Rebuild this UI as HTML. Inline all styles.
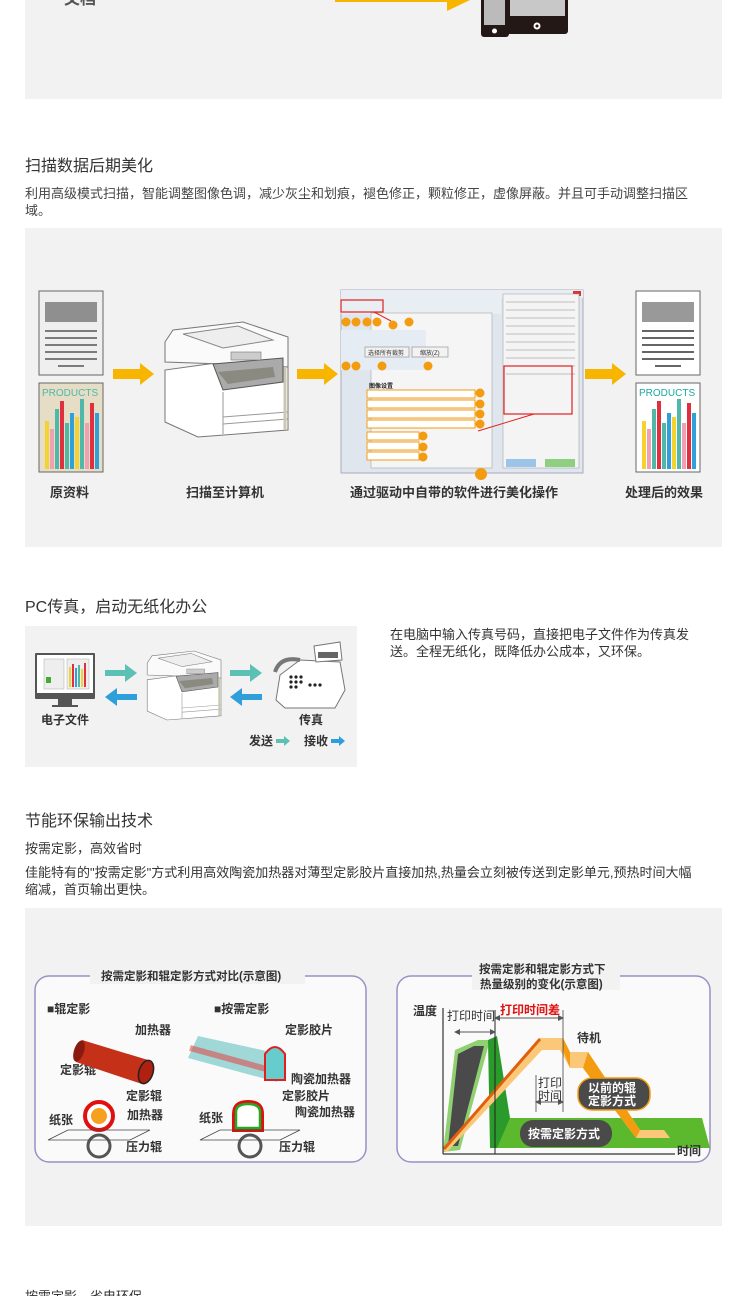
<!DOCTYPE html>
<html><head><meta charset="utf-8"><style>
html,body{margin:0;padding:0;background:#fff;}
svg{display:block;font-family:"Liberation Sans","Noto Sans CJK SC",sans-serif;}
</style></head><body>
<svg width="750" height="1296" viewBox="0 0 750 1296" xmlns="http://www.w3.org/2000/svg">
<defs>
<g id="printer">
  <path d="M2,48 L2,100 L35,115 L125,108 L125,45 L60,40 Z" fill="#fff" stroke="#777" stroke-width="1"/>
  <path d="M2,20 L10,8 L80,0 L125,15 L125,45 L60,42 L2,40 Z" fill="#fafafa" stroke="#777"/>
  <path d="M20,12 L75,4 L110,18 L60,26 Z" fill="#eee" stroke="#888"/>
  <path d="M50,42 L120,36 L120,60 L60,68 Z" fill="#aaa" stroke="#555"/>
  <path d="M55,50 L110,45 L112,55 L65,62 Z" fill="#8a8a80"/>
  <rect x="68" y="30" width="30" height="8" fill="#ccc" stroke="#777" stroke-width="0.6"/>
  <line x1="60" y1="70" x2="60" y2="112" stroke="#999"/>
  <line x1="60" y1="95" x2="125" y2="90" stroke="#999"/>
  <line x1="60" y1="102" x2="125" y2="97" stroke="#999"/>
  <line x1="122" y1="45" x2="122" y2="108" stroke="#c9c9b0" stroke-width="3"/>
</g>
<g id="bars">
  <rect x="6" y="38" width="4" height="48" fill="#f4d330"/>
  <rect x="11" y="46" width="4" height="40" fill="#f0a0b0"/>
  <rect x="16" y="26" width="4" height="60" fill="#4fb8a8"/>
  <rect x="21" y="18" width="4" height="68" fill="#e03040"/>
  <rect x="26" y="40" width="4" height="46" fill="#4fb8a8"/>
  <rect x="31" y="30" width="4" height="56" fill="#30a0d8"/>
  <rect x="36" y="34" width="4" height="52" fill="#f4d330"/>
  <rect x="41" y="16" width="4" height="70" fill="#4fb8a8"/>
  <rect x="46" y="40" width="4" height="46" fill="#f0a0b0"/>
  <rect x="51" y="20" width="4" height="66" fill="#e03040"/>
  <rect x="56" y="30" width="4" height="56" fill="#30a0d8"/>
</g>
<marker id="ah" markerWidth="6" markerHeight="6" refX="3" refY="3" orient="auto-start-reverse"><path d="M0,0 L6,3 L0,6Z" fill="#555"/></marker>
</defs>

<rect x="25" y="0" width="697" height="99" fill="#f2f2f2"/>
<text x="64" y="4" font-size="16" font-weight="bold" fill="#555">文档</text>
<rect x="335" y="-6" width="112" height="8" fill="#f7b500"/>
<path d="M447,-14 L470,0 L447,11 Z" fill="#f7b500"/>
<rect x="481" y="-10" width="28" height="47" rx="3" fill="#231815"/>
<rect x="484" y="-8" width="21" height="33" fill="#bbb"/>
<circle cx="494.5" cy="31" r="2.5" fill="#fff"/>
<rect x="507" y="-10" width="61" height="44" rx="3" fill="#231815"/>
<rect x="510" y="-8" width="55" height="24" fill="#c8c8c8"/>
<circle cx="537" cy="26" r="3.5" fill="#fff"/><circle cx="537" cy="26" r="1.5" fill="#231815"/>

<text x="25" y="171" font-size="16" fill="#333">扫描数据后期美化</text>
<text x="25" y="198" font-size="13" fill="#444">利用高级模式扫描，智能调整图像色调，减少灰尘和划痕，褪色修正，颗粒修正，虚像屏蔽。并且可手动调整扫描区</text>
<text x="25" y="215" font-size="13" fill="#444">域。</text>
<rect x="25" y="228" width="697" height="319" fill="#f2f2f2"/>

<rect x="39" y="291" width="64" height="84" fill="#efefef" stroke="#666"/>
<rect x="45" y="302" width="52" height="20" fill="#8f8f8f"/>
<g stroke="#555" stroke-width="1.5"><line x1="45" y1="331" x2="97" y2="331"/><line x1="45" y1="338" x2="97" y2="338"/><line x1="45" y1="345" x2="97" y2="345"/><line x1="45" y1="352" x2="97" y2="352"/><line x1="45" y1="359" x2="97" y2="359"/><line x1="58" y1="366" x2="84" y2="366"/></g>
<rect x="39" y="383" width="64" height="89" fill="#e6ddc7" stroke="#666"/>
<text x="42" y="396" font-size="10" fill="#4fb8a8">PRODUCTS</text>
<use href="#bars" x="39" y="383"/>

<path d="M113,369 L140,369 L140,363 L154,374 L140,385 L140,379 L113,379 Z" fill="#f7b500"/>
<use href="#printer" x="163" y="322"/>
<path d="M297,369 L324,369 L324,363 L338,374 L324,385 L324,379 L297,379 Z" fill="#f7b500"/>

<rect x="341" y="290" width="242" height="183" fill="#dfe6ee" stroke="#aab"/>
<rect x="341" y="290" width="242" height="8" fill="#e8eef4"/>
<rect x="573" y="291" width="8" height="5" fill="#d33"/>
<rect x="341" y="298" width="160" height="16" fill="#e9eef3"/>
<rect x="371" y="313" width="121" height="155" fill="#f5f5f5" stroke="#999" stroke-width="0.5"/>
<rect x="341" y="330" width="85" height="40" fill="#e6ecf3"/>
<rect x="341" y="300" width="42" height="12" fill="none" stroke="#e02020" stroke-width="1.2"/>
<line x1="374" y1="312" x2="391" y2="321" stroke="#e02020"/>
<g fill="#f39c12">
<circle cx="346" cy="322" r="4.5"/><circle cx="356" cy="322" r="4.5"/><circle cx="367" cy="322" r="4.5"/><circle cx="377" cy="322" r="4.5"/><circle cx="393" cy="325" r="4.5"/><circle cx="409" cy="322" r="4.5"/>
<circle cx="346" cy="366" r="4.5"/><circle cx="356" cy="366" r="4.5"/><circle cx="382" cy="366" r="4.5"/><circle cx="428" cy="366" r="4.5"/>
<circle cx="480" cy="393" r="4.5"/><circle cx="480" cy="404" r="4.5"/><circle cx="480" cy="414" r="4.5"/><circle cx="480" cy="424" r="4.5"/>
<circle cx="423" cy="436" r="4.5"/><circle cx="423" cy="447" r="4.5"/><circle cx="423" cy="457" r="4.5"/><circle cx="481" cy="474" r="6"/>
</g>
<rect x="365" y="347" width="44" height="10" fill="#f2f2f2" stroke="#888" stroke-width="0.6"/>
<text x="368" y="355" font-size="6" fill="#333">选择所有裁剪</text>
<rect x="412" y="347" width="36" height="10" fill="#f2f2f2" stroke="#888" stroke-width="0.6"/>
<text x="420" y="355" font-size="6" fill="#333">缩放(Z)</text>
<text x="369" y="388" font-size="6" fill="#222" font-weight="bold">图像设置</text>
<g fill="#fff" stroke="#f39c12" stroke-width="1"><rect x="367" y="390" width="108" height="8"/><rect x="367" y="400" width="108" height="8"/><rect x="367" y="410" width="108" height="8"/><rect x="367" y="420" width="108" height="8"/><rect x="367" y="432" width="52" height="8"/><rect x="367" y="442" width="52" height="8"/><rect x="367" y="452" width="52" height="8"/></g>
<rect x="503" y="294" width="76" height="174" fill="#f4f4f4" stroke="#999" stroke-width="0.5"/>
<g stroke="#bbb" stroke-width="1"><line x1="506" y1="302" x2="575" y2="302"/><line x1="506" y1="310" x2="575" y2="310"/><line x1="506" y1="318" x2="575" y2="318"/><line x1="506" y1="326" x2="575" y2="326"/><line x1="506" y1="334" x2="575" y2="334"/><line x1="506" y1="342" x2="575" y2="342"/><line x1="506" y1="350" x2="575" y2="350"/><line x1="506" y1="358" x2="575" y2="358"/><line x1="506" y1="366" x2="575" y2="366"/><line x1="506" y1="374" x2="575" y2="374"/></g>
<rect x="504" y="366" width="68" height="48" fill="none" stroke="#e02020" stroke-width="1.2"/>
<line x1="534" y1="414" x2="478" y2="431" stroke="#e02020"/>
<rect x="506" y="459" width="30" height="8" fill="#9cc3e8"/>
<rect x="545" y="459" width="30" height="8" fill="#8fd080"/>

<path d="M585,369 L612,369 L612,363 L626,374 L612,385 L612,379 L585,379 Z" fill="#f7b500"/>
<rect x="636" y="291" width="64" height="84" fill="#fff" stroke="#666"/>
<rect x="642" y="302" width="52" height="20" fill="#999"/>
<g stroke="#333" stroke-width="1.5"><line x1="642" y1="331" x2="694" y2="331"/><line x1="642" y1="338" x2="694" y2="338"/><line x1="642" y1="345" x2="694" y2="345"/><line x1="642" y1="352" x2="694" y2="352"/><line x1="642" y1="359" x2="694" y2="359"/><line x1="655" y1="366" x2="681" y2="366"/></g>
<rect x="636" y="383" width="64" height="89" fill="#fff" stroke="#666"/>
<text x="639" y="396" font-size="10" fill="#1aa9a0">PRODUCTS</text>
<use href="#bars" x="636" y="383"/>

<g font-size="13" font-weight="bold" fill="#333">
<text x="50" y="497">原资料</text>
<text x="186" y="497">扫描至计算机</text>
<text x="350" y="497">通过驱动中自带的软件进行美化操作</text>
<text x="625" y="497">处理后的效果</text>
</g>

<text x="25" y="612" font-size="16" fill="#333">PC传真，启动无纸化办公</text>
<rect x="25" y="626" width="332" height="141" fill="#f2f2f2"/>
<text x="390" y="639" font-size="13" fill="#333">在电脑中输入传真号码，直接把电子文件作为传真发</text>
<text x="390" y="656" font-size="13" fill="#333">送。全程无纸化，既降低办公成本，又环保。</text>
<rect x="35" y="653" width="60" height="46" fill="#555" rx="1"/>
<rect x="37" y="655" width="56" height="38" fill="#fff"/>
<rect x="44" y="659" width="20" height="30" fill="#eee" stroke="#aaa" stroke-width="0.5"/>
<rect x="67" y="659" width="22" height="30" fill="#eee" stroke="#aaa" stroke-width="0.5"/>
<g><rect x="69" y="667" width="2" height="20" fill="#f4d330"/><rect x="72" y="664" width="2" height="23" fill="#e03040"/><rect x="75" y="668" width="2" height="19" fill="#30a0d8"/><rect x="78" y="665" width="2" height="22" fill="#4fb8a8"/><rect x="81" y="669" width="2" height="18" fill="#f4d330"/><rect x="84" y="663" width="2" height="24" fill="#e03040"/></g>
<rect x="46" y="677" width="5" height="6" fill="#4a3"/>
<rect x="58" y="699" width="14" height="6" fill="#555"/><rect x="52" y="705" width="26" height="2" fill="#555"/>
<path d="M105,670 L125,670 L125,664 L137,673 L125,682 L125,676 L105,676 Z" fill="#5cc0b5"/>
<path d="M137,694 L117,694 L117,688 L105,697 L117,706 L117,700 L137,700 Z" fill="#2f9fdc"/>
<use href="#printer" x="146" y="651" transform="translate(146,651) scale(0.6) translate(-146,-651)"/>
<path d="M230,670 L250,670 L250,664 L262,673 L250,682 L250,676 L230,676 Z" fill="#5cc0b5"/>
<path d="M262,694 L242,694 L242,688 L230,697 L242,706 L242,700 L262,700 Z" fill="#2f9fdc"/>
<path d="M276,700 L280,675 L300,660 L340,662 L345,690 L335,708 L285,708 Z" fill="#fff" stroke="#777"/>
<path d="M314,646 L340,642 L342,660 L316,662 Z" fill="#fff" stroke="#777"/>
<rect x="318" y="652" width="20" height="6" fill="#666"/>
<path d="M275,672 Q280,656 300,660" fill="none" stroke="#777" stroke-width="4"/>
<g fill="#222"><circle cx="291" cy="677" r="1.6"/><circle cx="296" cy="677" r="1.6"/><circle cx="301" cy="677" r="1.6"/><circle cx="291" cy="682" r="1.6"/><circle cx="296" cy="682" r="1.6"/><circle cx="301" cy="682" r="1.6"/><circle cx="291" cy="687" r="1.6"/><circle cx="296" cy="687" r="1.6"/><circle cx="310" cy="685" r="1.6"/><circle cx="315" cy="685" r="1.6"/><circle cx="320" cy="685" r="1.6"/></g>
<g font-size="12" font-weight="bold" fill="#333">
<text x="41" y="724">电子文件</text>
<text x="299" y="724">传真</text>
<text x="249" y="745">发送</text>
<text x="304" y="745">接收</text>
</g>
<path d="M276,739 L284,739 L284,736 L290,741 L284,746 L284,743 L276,743 Z" fill="#5cc0b5"/>
<path d="M331,739 L339,739 L339,736 L345,741 L339,746 L339,743 L331,743 Z" fill="#2f9fdc"/>

<text x="25" y="826" font-size="16" fill="#333">节能环保输出技术</text>
<text x="25" y="853" font-size="13" fill="#333">按需定影，高效省时</text>
<text x="25" y="877" font-size="13" fill="#333">佳能特有的"按需定影"方式利用高效陶瓷加热器对薄型定影胶片直接加热,热量会立刻被传送到定影单元,预热时间大幅</text>
<text x="25" y="894" font-size="13" fill="#333">缩减，首页输出更快。</text>
<rect x="25" y="908" width="697" height="318" fill="#f2f2f2"/>

<rect x="35" y="976" width="331" height="186" rx="14" fill="#fafafa" stroke="#9a90c8" stroke-width="1.5"/>
<rect x="90" y="966" width="215" height="18" fill="#f2f2f2"/>
<text x="101" y="980" font-size="11.5" font-weight="bold" fill="#333">按需定影和辊定影方式对比(示意图)</text>
<g font-size="12" font-weight="bold" fill="#333">
<text x="47" y="1013">■辊定影</text>
<text x="214" y="1013">■按需定影</text>
<text x="135" y="1034">加热器</text>
<text x="60" y="1074">定影辊</text>
<text x="285" y="1034">定影胶片</text>
<text x="291" y="1083">陶瓷加热器</text>
<text x="126" y="1100">定影辊</text>
<text x="127" y="1119">加热器</text>
<text x="49" y="1124">纸张</text>
<text x="126" y="1151">压力辊</text>
<text x="282" y="1100">定影胶片</text>
<text x="295" y="1116">陶瓷加热器</text>
<text x="199" y="1122">纸张</text>
<text x="279" y="1151">压力辊</text>
</g>
<path d="M82,1040 L148,1060 L142,1084 L76,1062 Z" fill="#c43018"/>
<ellipse cx="79" cy="1051" rx="5" ry="11" fill="#8a1a10" transform="rotate(18 79 1051)"/>
<ellipse cx="146" cy="1072" rx="7" ry="12" fill="#b02010" stroke="#222" stroke-width="1.5" transform="rotate(18 146 1072)"/>
<path d="M198,1036 L280,1054 L277,1082 L188,1058 Z" fill="#8fd0d0" opacity="0.85"/>
<path d="M190,1048 L270,1070" stroke="#e05050" stroke-width="6" opacity="0.6"/>
<path d="M265,1054 Q275,1040 285,1054 L285,1080 L265,1080 Z" fill="#6cc" stroke="#e02020" stroke-width="2"/>
<circle cx="99" cy="1116" r="14" fill="#fff" stroke="#e01010" stroke-width="4"/>
<circle cx="99" cy="1116" r="8" fill="#f6a020"/>
<circle cx="99" cy="1146" r="11" fill="none" stroke="#555" stroke-width="3"/>
<path d="M48,1140 L68,1130 L150,1130 L130,1140 Z" fill="none" stroke="#444" stroke-width="0.8"/>
<path d="M232,1132 L232,1114 Q232,1100 248,1100 Q264,1100 264,1114 L264,1132 Z" fill="#e01010"/>
<path d="M236,1128 L236,1112 Q236,1104 248,1104 Q260,1104 260,1112 L260,1128 Z" fill="#fff" stroke="#2a2" stroke-width="2.5"/>
<circle cx="250" cy="1146" r="11" fill="none" stroke="#555" stroke-width="3"/>
<path d="M200,1140 L220,1130 L300,1130 L280,1140 Z" fill="none" stroke="#444" stroke-width="0.8"/>

<rect x="397" y="976" width="313" height="186" rx="14" fill="#fafafa" stroke="#9a90c8" stroke-width="1.5"/>
<rect x="472" y="960" width="148" height="30" fill="#f2f2f2"/>
<text x="479" y="973" font-size="11.5" font-weight="bold" fill="#333">按需定影和辊定影方式下</text>
<text x="480" y="988" font-size="11.5" font-weight="bold" fill="#333">热量级别的变化(示意图)</text>
<!-- chart -->
<path d="M497,1118 L702,1118 L710,1148 L497,1148 Z" fill="#5cb82c"/>
<path d="M443,1152 L455,1050 L478,1040 L490,1040 L460,1150 Z" fill="#8fd070"/>
<path d="M458,1054 L474,1046 L484,1046 L458,1146 L448,1146 Z" fill="#4a4a4a"/>
<path d="M488,1040 L497,1036 L510,1118 L497,1148 L490,1148 Z" fill="#2a9a2a"/>
<path d="M443,1150 L540,1038 L563,1038 L570,1052 L588,1052 L640,1130 L664,1130 L670,1138 L636,1138 L583,1068 L570,1068 L560,1050 L542,1050 L447,1152 Z" fill="#fac878"/>
<path d="M563,1038 L570,1052 L570,1068 L563,1050 Z M588,1052 L640,1130 L636,1138 L583,1068 Z" fill="#f39c12"/>
<path d="M444,1149 L540,1039" stroke="#e06010" stroke-width="3"/>
<line x1="443" y1="1008" x2="443" y2="1154" stroke="#333" stroke-width="1.2"/>
<line x1="443" y1="1154" x2="675" y2="1154" stroke="#333" stroke-width="1.2"/>
<line x1="495" y1="1010" x2="495" y2="1154" stroke="#222" stroke-width="1"/>
<line x1="563" y1="1010" x2="563" y2="1112" stroke="#444" stroke-width="0.8"/>
<line x1="536" y1="1075" x2="536" y2="1112" stroke="#444" stroke-width="0.8"/>
<line x1="457" y1="1032" x2="493" y2="1032" stroke="#555" marker-start="url(#ah)" marker-end="url(#ah)"/>
<line x1="497" y1="1018" x2="561" y2="1018" stroke="#555" marker-start="url(#ah)" marker-end="url(#ah)"/>
<line x1="538" y1="1102" x2="561" y2="1102" stroke="#555" marker-start="url(#ah)" marker-end="url(#ah)"/>
<rect x="520" y="1120" width="92" height="27" rx="13" fill="#4a4a4a"/>
<rect x="578" y="1078" width="72" height="32" rx="14" fill="#4a4a4a" stroke="#f39c12" stroke-width="1.5"/>
<g font-size="12" font-weight="bold">
<text x="413" y="1015" fill="#333">温度</text>
<text x="447" y="1020" fill="#333" font-weight="normal">打印时间</text>
<text x="500" y="1014" fill="#e01010">打印时间差</text>
<text x="577" y="1042" fill="#333">待机</text>
<text x="538" y="1087" fill="#333" font-weight="normal">打印</text>
<text x="538" y="1100" fill="#333" font-weight="normal">时间</text>
<text x="588" y="1092" fill="#fff">以前的辊</text>
<text x="588" y="1105" fill="#fff">定影方式</text>
<text x="528" y="1138" fill="#fff">按需定影方式</text>
<text x="677" y="1155" fill="#333">时间</text>
</g>

<text x="25" y="1301" font-size="13" fill="#333">按需定影，省电环保</text>
</svg>
</body></html>
